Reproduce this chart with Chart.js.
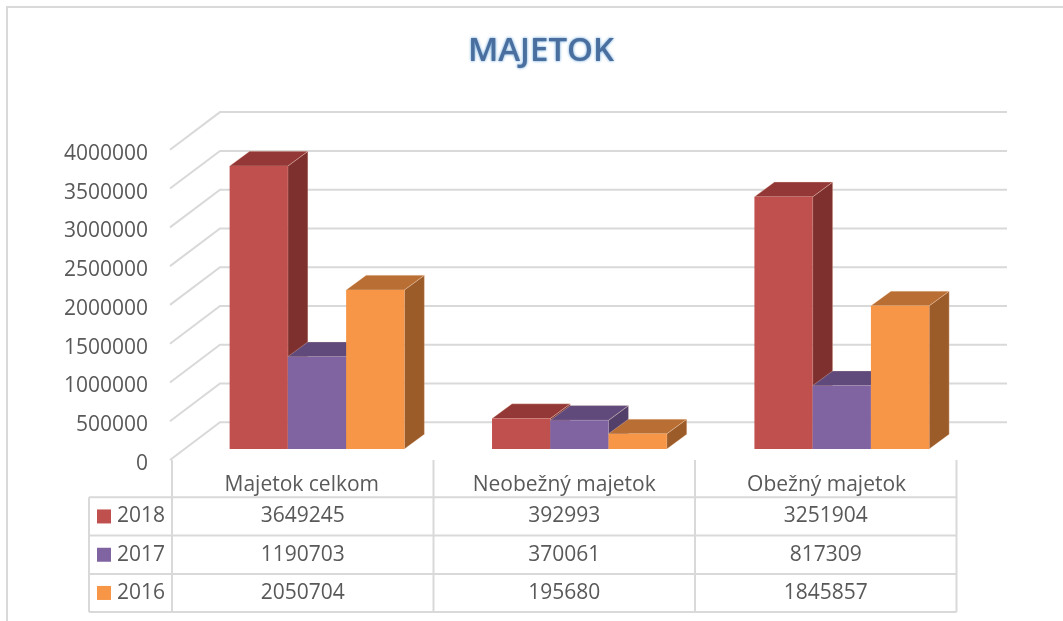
<!DOCTYPE html>
<html lang="sk">

<head>
    <meta charset="UTF-8">
    <title>Majetok</title>
    <script src="https://cdn.jsdelivr.net/npm/chart.js"></script>
    <style>
        body {
            margin: 0;
            background: #fff;
        }

        #wrap {
            width: 1063px;
            height: 621px;
        }
    </style>
</head>

<body>
    <div id="wrap"><canvas id="majetok" width="1063" height="621"></canvas></div>
    <script>
        const categories = ['Majetok celkom', 'Neobežný majetok', 'Obežný majetok'];
        const years = ['2018', '2017', '2016'];
        const values2018 = [3649245, 392993, 3251904];
        const values2017 = [1190703, 370061, 817309];
        const values2016 = [2050704, 195680, 1845857];

        const fontName = '"Open Sans", sans-serif';
        const textColor = '#595959';
        const lineColor = '#d9d9d9';

        // front, top and side colour of each series
        const frontColors = ['#c0504d', '#8064a2', '#f79646'];
        const topColors = ['#933836', '#604a7b', '#b96f33'];
        const sideColors = ['#7e302e', '#523f6a', '#9c5c2a'];

        // depth of the fake 3d box
        const depthX = 20;
        const depthY = 14.7;

        function face(ctx, color, pts) {
            ctx.fillStyle = color;
            ctx.strokeStyle = 'rgba(255, 225, 205, 0.3)';
            ctx.lineWidth = 1;
            ctx.beginPath();
            pts.forEach((p, i) => i ? ctx.lineTo(p[0], p[1]) : ctx.moveTo(p[0], p[1]));
            ctx.closePath();
            ctx.fill();
            ctx.stroke();
        }

        function line(ctx, pts, width) {
            ctx.strokeStyle = lineColor;
            ctx.lineWidth = width;
            ctx.beginPath();
            pts.forEach((p, i) => i ? ctx.lineTo(p[0], p[1]) : ctx.moveTo(p[0], p[1]));
            ctx.stroke();
        }

        // frame, gridlines, then the bars left to right so each one covers the side of the last
        const boxPlugin = {
            id: 'box',
            afterLayout(chart) {
                // title is centred over the whole picture, not the padded plot
                const title = chart.titleBlock;
                title.right = 1063;
                if (!title.glow) {
                    const drawTitle = title.draw;
                    title.glow = true;
                    title.draw = function () {
                        const ctx = this.ctx;
                        ctx.save();
                        ctx.shadowColor = '#5b9bd5';
                        ctx.shadowBlur = 3;
                        drawTitle.call(this);
                        ctx.restore();
                    };
                }
            },
            beforeDatasetsDraw(chart) {
                const ctx = chart.ctx;
                const yScale = chart.scales.y;
                ctx.save();
                line(ctx, [[7, 621], [7, 7], [1063, 7]], 2);
                yScale.ticks.forEach(t => {
                    const y = yScale.getPixelForValue(t.value);
                    line(ctx, [[170, y + 11], [220, y - 26.7], [1007, y - 26.7]], 2);
                });
                chart.getSortedVisibleDatasetMetas().forEach(meta => {
                    const s = meta.index;
                    meta.data.forEach(bar => {
                        const left = bar.x - bar.width / 2;
                        const right = bar.x + bar.width / 2;
                        face(ctx, sideColors[s], [[right, bar.y], [right + depthX, bar.y - depthY], [right + depthX, bar.base - depthY], [right, bar.base]]);
                        face(ctx, topColors[s], [[left, bar.y], [left + depthX, bar.y - depthY], [right + depthX, bar.y - depthY], [right, bar.y]]);
                    });
                    meta.controller.draw();
                });
                ctx.restore();
                return false;
            }
        };

        // data table below the plot
        const tablePlugin = {
            id: 'table',
            afterDraw(chart) {
                const ctx = chart.ctx;
                const rows = [values2018, values2017, values2016];
                const colX = [172, 433.5, 695, 956.5];
                const rowY = [497.3, 535.6, 573.9, 612];
                ctx.save();
                rowY.forEach(y => line(ctx, [[89, y], [956.5, y]], 2));
                line(ctx, [[89, 497.3], [89, 612]], 2);
                colX.forEach(x => line(ctx, [[x, 460], [x, 612]], 2));
                ctx.font = '21px ' + fontName;
                ctx.textBaseline = 'middle';
                rows.forEach((row, r) => {
                    const y = (rowY[r] + rowY[r + 1]) / 2;
                    ctx.fillStyle = frontColors[r];
                    ctx.fillRect(97, y - 7, 14, 14);
                    ctx.fillStyle = textColor;
                    ctx.textAlign = 'left';
                    ctx.fillText(years[r], 117, y);
                    ctx.textAlign = 'center';
                    row.forEach((v, c) => ctx.fillText(String(v), (colX[c] + colX[c + 1]) / 2, y));
                });
                ctx.restore();
            }
        };

        const chart = new Chart(document.getElementById('majetok'), {
            type: 'bar',
            data: {
                labels: categories,
                datasets: [
                    { label: years[0], data: values2018, backgroundColor: frontColors[0] },
                    { label: years[1], data: values2017, backgroundColor: frontColors[1] },
                    { label: years[2], data: values2016, backgroundColor: frontColors[2] }
                ]
            },
            plugins: [boxPlugin, tablePlugin],
            options: {
                responsive: false,
                animation: false,
                categoryPercentage: 0.666,
                barPercentage: 1,
                layout: { padding: { left: 19, right: 90, top: 0, bottom: 72 } },
                plugins: {
                    legend: { display: false },
                    tooltip: { enabled: false },
                    title: {
                        display: true,
                        text: 'MAJETOK',
                        color: '#4a6f9e',
                        font: { family: fontName, size: 33, weight: '600' },
                        padding: { top: 32, bottom: 67.2 }
                    }
                },
                scales: {
                    x: {
                        grid: { display: false },
                        border: { display: false },
                        afterFit(scale) { scale.height = 100; },
                        ticks: {
                            color: textColor,
                            font: { family: fontName, size: 21 },
                            labelOffset: -15.2,
                            padding: 15,
                            maxRotation: 0,
                            autoSkip: false
                        }
                    },
                    y: {
                        min: 0,
                        max: 4000000,
                        grid: { display: false },
                        border: { display: false },
                        afterFit(scale) { scale.width = 166.8; },
                        ticks: {
                            stepSize: 500000,
                            color: textColor,
                            font: { family: fontName, size: 21 },
                            labelOffset: 15,
                            padding: 29.8,
                            callback: v => String(v)
                        }
                    }
                }
            }
        });
    </script>
</body>

</html>
